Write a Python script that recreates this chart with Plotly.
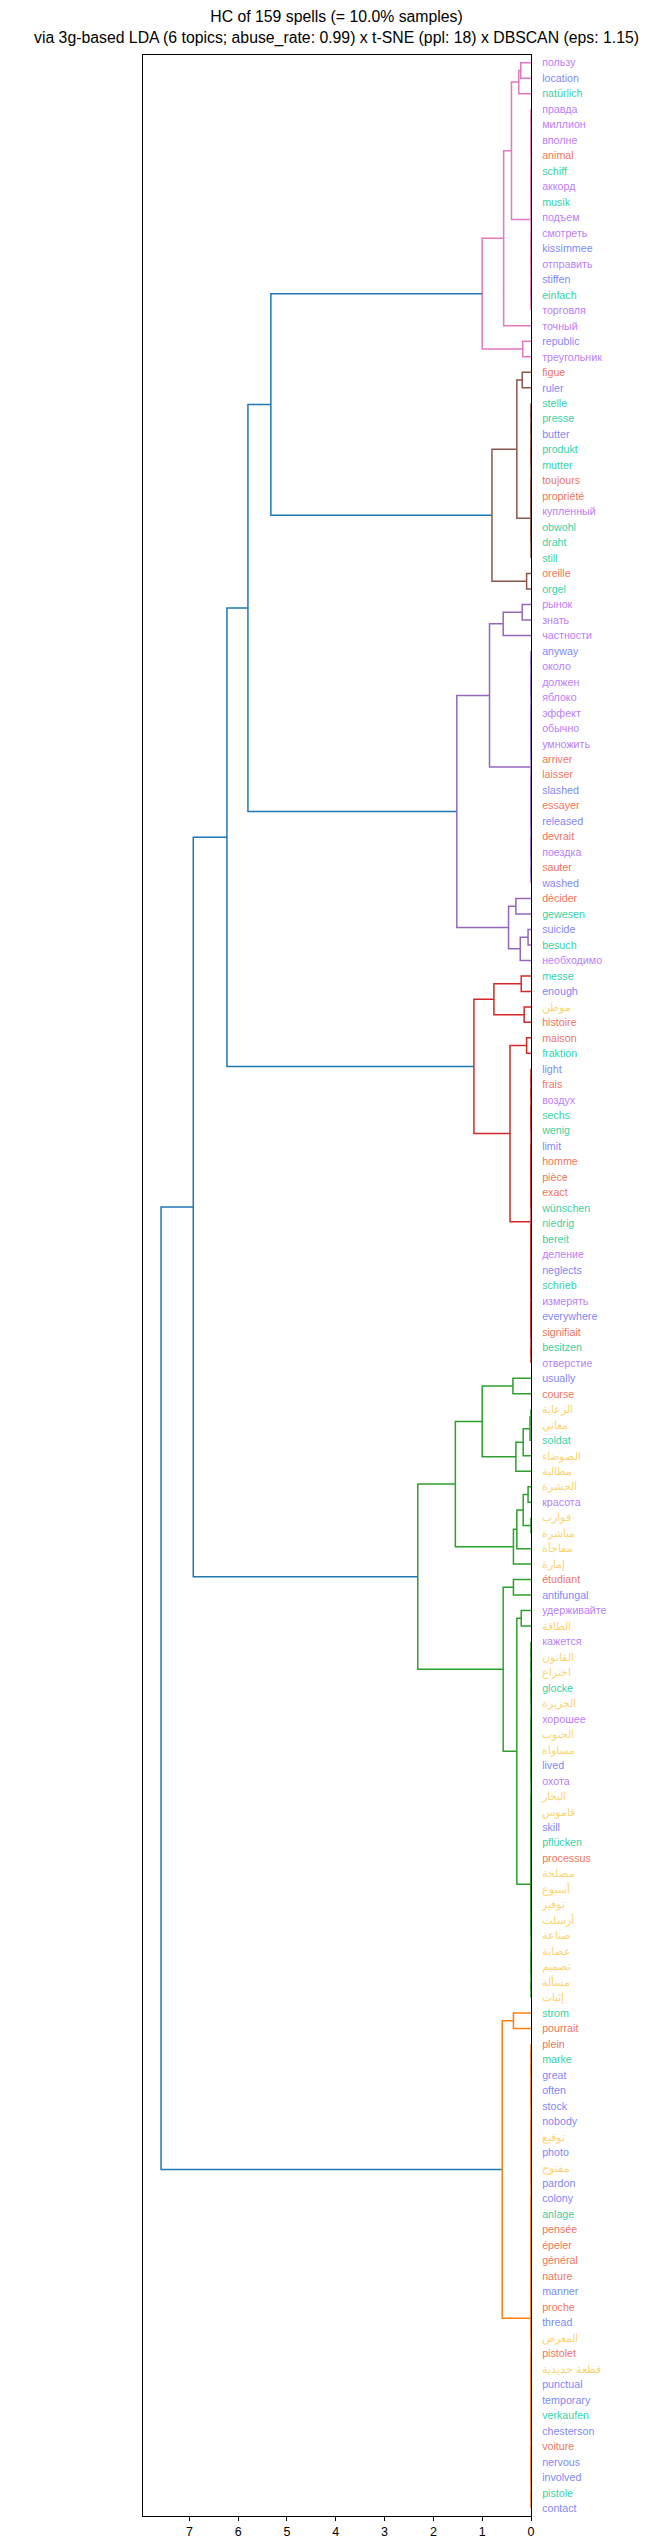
import plotly.graph_objects as go

TITLE = ("HC of 159 spells (= 10.0% samples)<br>"
         "via 3g-based LDA (6 topics; abuse_rate: 0.99) x t-SNE (ppl: 18) x DBSCAN (eps: 1.15)")

# leaf labels, top to bottom
labels_pink = ["пользу", "location", "natürlich", "правда", "миллион", "вполне", "animal", "schiff",
               "аккорд", "musik", "подъем", "смотреть", "kissimmee", "отправить", "stiffen", "einfach",
               "торговля", "точный", "republic", "треугольник"]
labels_brown = ["figue", "ruler", "stelle", "presse", "butter", "produkt", "mutter", "toujours",
                "propriété", "купленный", "obwohl", "draht", "still", "oreille", "orgel"]
labels_purple = ["рынок", "знать", "частности", "anyway", "около", "должен", "яблоко", "эффект",
                 "обычно", "умножить", "arriver", "laisser", "slashed", "essayer", "released", "devrait",
                 "поездка", "sauter", "washed", "décider", "gewesen", "suicide", "besuch", "необходимо"]
labels_red = ["messe", "enough", "موطن", "histoire", "maison", "fraktion", "light", "frais", "воздух",
              "sechs", "wenig", "limit", "homme", "pièce", "exact", "wünschen", "niedrig", "bereit",
              "деление", "neglects", "schrieb", "измерять", "everywhere", "signifiait", "besitzen",
              "отверстие"]
labels_green = ["usually", "course", "الرعاية", "معاني", "soldat", "الضوضاء", "مطالبة", "الحشرة",
                "красота", "قوارب", "مباشرة", "مفاجأة", "إمارة", "étudiant", "antifungal", "удерживайте",
                "الطاقة", "кажется", "القانون", "اختراع", "glocke", "الجزيرة", "хорошее", "الجنوب",
                "مساواة", "lived", "охота", "البخار", "قاموس", "skill", "pflücken", "processus", "مصلحة",
                "أسبوع", "توفير", "أرسلت", "صناعة", "عصابة", "تصميم", "مسألة", "إثبات"]
labels_orange = ["strom", "pourrait", "plein", "marke", "great", "often", "stock", "nobody", "توقيع",
                 "photo", "مفتوح", "pardon", "colony", "anlage", "pensée", "épeler", "général", "nature",
                 "manner", "proche", "thread", "المعرض", "pistolet", "قطعة حديدية", "punctual",
                 "temporary", "verkaufen", "chesterson", "voiture", "nervous", "involved", "pistole",
                 "contact"]
labels = labels_pink + labels_brown + labels_purple + labels_red + labels_green + labels_orange

langs = ("ru en de ru ru ru fr de ru de ru ru en ru en de ru ru en ru "
         "fr en de de en de de fr fr ru de de de fr de "
         "ru ru ru en ru ru ru ru ru ru fr fr en fr en fr ru fr en fr de en de ru "
         "de en ar fr fr de en fr ru de de en fr fr fr de de de ru en de ru en fr de ru "
         "en fr ar ar de ar ar ar ru ar ar ar ar fr en ru ar ru ar ar de ar ru ar ar en ru ar ar en de fr "
         "ar ar ar ar ar ar ar ar ar "
         "de fr fr de en en en en ar en ar en en de fr fr fr fr en fr en ar fr ar en en de en fr en en de en").split()

lang_colors = {"ru": "rgba(171,99,250,0.85)", "en": "rgba(99,110,250,0.85)", "de": "rgba(0,204,150,0.85)",
               "fr": "rgba(239,85,59,0.85)", "ar": "rgba(254,203,82,0.85)"}


def N(h, a, b):
    return (h, a, b)


def flat(a, b):
    if a == b:
        return a
    m = (a + b) // 2
    return (0.0, flat(a, m), flat(m + 1, b))


# merge heights (distance)
pink = N(1.00, N(0.56, N(0.40, N(0.25, N(0.21, 0, 1), 2), N(0.0, flat(3, 10), flat(11, 16))), 17),
         N(0.17, 18, 19))
brown = N(0.80, N(0.29, N(0.18, 20, 21), N(0.0, flat(22, 31), 32)), N(0.09, 33, 34))
purple = N(1.52, N(0.85, N(0.57, N(0.18, 35, 36), 37), flat(38, 53)),
           N(0.46, N(0.31, 54, 55), N(0.22, N(0.06, 56, 57), 58)))
red = N(1.17, N(0.76, N(0.20, 59, 60), N(0.14, 61, 62)), N(0.43, N(0.09, 63, 64), flat(65, 84)))
green = N(2.32,
          N(1.55,
            N(1.00, N(0.37, 85, 86), N(0.31, N(0.16, N(0.02, N(0.0, 87, 88), 89), 90), 91)),
            N(0.36, N(0.29, N(0.16, N(0.06, 92, 93), N(0.0, 94, 95)), 96), 97)),
          N(0.57, N(0.36, 98, 99), N(0.29, N(0.20, 100, 101), N(0.0, flat(102, 121), flat(122, 125)))))
orange = N(0.59, N(0.36, 126, 127), N(0.0, flat(128, 147), flat(148, 158)))

clusters = [(pink, "#e377c2"), (brown, "#8c564b"), (purple, "#9467bd"),
            (red, "#d62728"), (green, "#2ca02c"), (orange, "#ff7f0e")]
top_heights = [5.33, 5.80, 6.23, 6.92, 7.58]
ABOVE = "#1f77b4"

root = N(top_heights[4], N(top_heights[3], N(top_heights[2], N(top_heights[1],
         N(top_heights[0], pink, brown), purple), red), green), orange)

segs = {}


def layout(node, color):
    if isinstance(node, int):
        return float(node), 0.0
    h, a, b = node
    c = color
    for cl, col in clusters:
        if node is cl:
            c = col
    ya, ha = layout(a, c)
    yb, hb = layout(b, c)
    lc = c if c else ABOVE
    xs, ys = segs.setdefault(lc, ([], []))
    xs += [ha, h, h, hb, None]
    ys += [ya, ya, yb, yb, None]
    return (ya + yb) / 2.0, h


layout(root, None)

fig = go.Figure()
for col, (xs, ys) in segs.items():
    fig.add_trace(go.Scatter(x=xs, y=ys, mode="lines", line=dict(color=col, width=1.5),
                             hoverinfo="skip", showlegend=False))

ticktext = ['<span style="color:%s">%s</span>' % (lang_colors[g], t) for t, g in zip(labels, langs)]

fig.update_layout(
    width=657, height=2543,
    margin=dict(l=135, r=134, t=47, b=32),
    paper_bgcolor="white", plot_bgcolor="white",
    font=dict(family="Liberation Sans, Arial, sans-serif", color="black"),
    title=dict(text=TITLE, x=0.5, xanchor="center", xref="container", y=1 - 14 / 2543, yanchor="middle",
               yref="container", font=dict(size=15.8, color="black")),
    showlegend=False,
)
fig.update_xaxes(range=[7.95, 0], tickvals=list(range(8)), ticks="outside", ticklen=4,
                 tickcolor="black", tickfont=dict(size=12.5), showgrid=False, zeroline=False,
                 showline=True, linecolor="black", linewidth=1, mirror=True)
fig.update_yaxes(range=[158.5, -0.5], tickvals=list(range(len(labels))), ticktext=ticktext,
                 side="right", ticks="outside", ticklen=8, tickcolor="rgba(0,0,0,0)",
                 tickfont=dict(size=10.7), showgrid=False, zeroline=False,
                 showline=True, linecolor="black", linewidth=1, mirror=True)

fig.write_html("out.html")
